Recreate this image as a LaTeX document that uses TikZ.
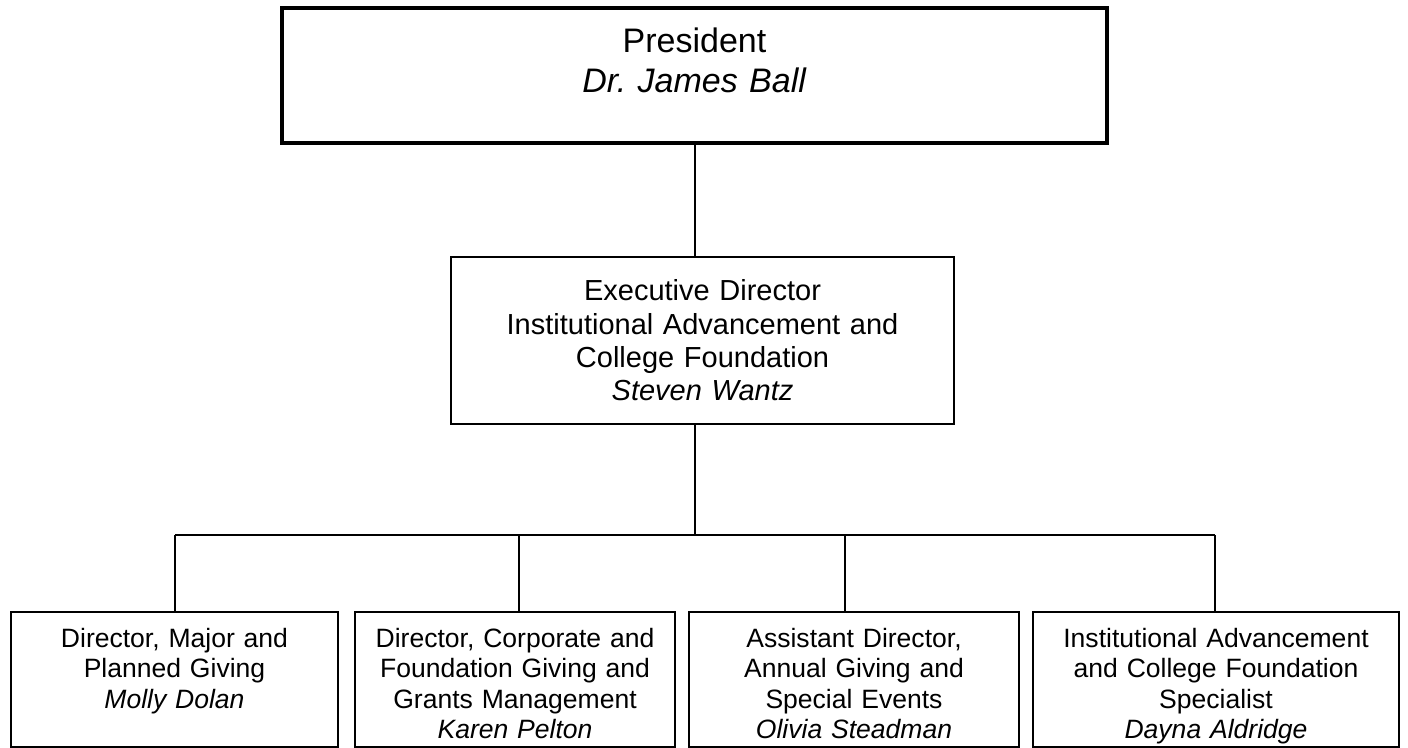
\documentclass[tikz,border=0pt]{standalone}
\usepackage{fontspec}
\setmainfont{Liberation Sans}
\usepackage{tikz}
\frenchspacing
\tikzstyle{presbox}=[rectangle,draw=black,line width=3pt,inner sep=0pt,minimum width=618.75pt,text width=600pt,align=center,text height=33.75pt,text depth=67.5pt,font=\fontsize{25.5}{29.3}\selectfont]
\tikzstyle{execbox}=[rectangle,draw=black,line width=1.5pt,inner sep=0pt,minimum width=377.25pt,minimum height=125.25pt,text width=370pt,align=center,font=\fontsize{21.75}{25}\selectfont]
\tikzstyle{staffbox}=[rectangle,draw=black,line width=1.5pt,inner sep=0pt,anchor=north,text width=240pt,align=center,text height=26.25pt,text depth=75pt,font=\fontsize{19.9}{22.9}\selectfont]
\tikzstyle{link}=[line width=1.5pt]

\begin{document}
\begin{tikzpicture}[x=0.75pt,y=-0.75pt]
\useasboundingbox (0,0) rectangle (1408,748);

\node (pres) at (694.5,75.5) [presbox] {President\\ \textit{Dr. James Ball}};
\node (exec) at (702.5,340.5) [execbox] {Executive Director\\ Institutional Advancement and\\ College Foundation\\ \textit{Steven Wantz}};

\node (major) at (174.5,611) [staffbox,minimum width=245.25pt] {Director, Major and\\ Planned Giving\\ \textit{Molly Dolan}};
\node (corp) at (515,611) [staffbox,minimum width=240pt] {Director, Corporate and\\ Foundation Giving and\\ Grants Management\\ \textit{Karen Pelton}};
\node (annual) at (854,611) [staffbox,minimum width=247.5pt] {Assistant Director,\\ Annual Giving and\\ Special Events\\ \textit{Olivia Steadman}};
\node (spec) at (1216,611) [staffbox,minimum width=274.5pt] {Institutional Advancement\\ and College Foundation\\ Specialist\\ \textit{Dayna Aldridge}};

\coordinate (fork) at (695,535);
\coordinate (b1) at (175,535);
\coordinate (b2) at (519,535);
\coordinate (b3) at (845,535);
\coordinate (b4) at (1215,535);

\draw[link] (pres.south) -- (pres.south |- exec.north);
\draw[link] (fork |- exec.south) -- (fork);
\draw[link] (b1) -- (b4);
\foreach \b/\s in {b1/major,b2/corp,b3/annual,b4/spec}
  \draw[link] (\b) -- (\b |- \s.north);
\end{tikzpicture}
\end{document}
